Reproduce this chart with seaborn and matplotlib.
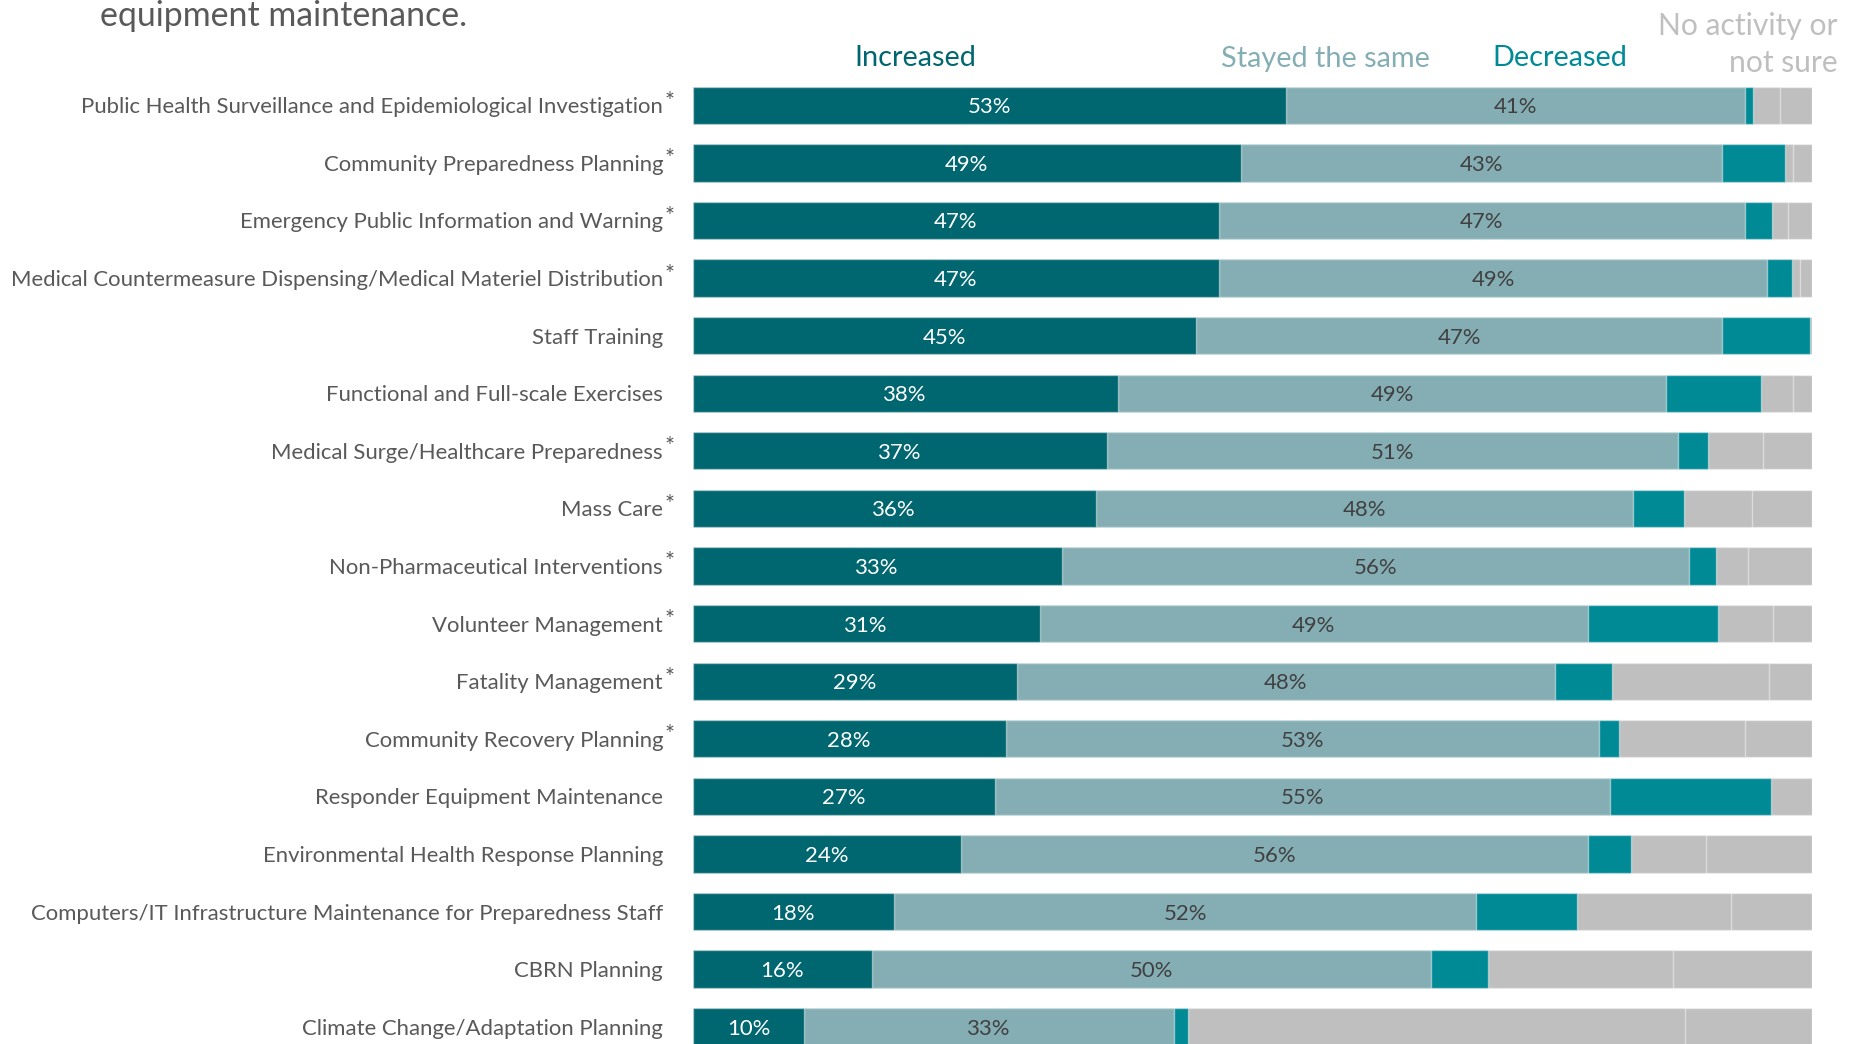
import numpy as np
import pandas as pd
import matplotlib
matplotlib.use("Agg")
import matplotlib.pyplot as plt
import matplotlib.transforms as mtransforms
import seaborn as sns

# ---- data -----------------------------------------------------------------
capabilities = [
    "Public Health Surveillance and Epidemiological Investigation",
    "Community Preparedness Planning",
    "Emergency Public Information and Warning",
    "Medical Countermeasure Dispensing/Medical Materiel Distribution",
    "Staff Training",
    "Functional and Full-scale Exercises",
    "Medical Surge/Healthcare Preparedness",
    "Mass Care",
    "Non-Pharmaceutical Interventions",
    "Volunteer Management",
    "Fatality Management",
    "Community Recovery Planning",
    "Responder Equipment Maintenance",
    "Environmental Health Response Planning",
    "Computers/IT Infrastructure Maintenance for Preparedness Staff",
    "CBRN Planning",
    "Climate Change/Adaptation Planning",
]
starred = [True, True, True, True, False, False, True, True, True, True,
           True, True, False, False, False, False, False]

increased = [53, 49, 47, 47, 45, 38, 37, 36, 33, 31, 29, 28, 27, 24, 18, 16, 10]
stayed_same = [41, 43, 47, 49, 47, 49, 51, 48, 56, 49, 48, 53, 55, 56, 52, 50, 33]
decreased = [0.7, 5.6, 2.4, 2.2, 7.8, 8.4, 2.7, 4.6, 2.4, 11.6, 5.1, 1.8, 14.3,
             3.8, 9.0, 5.1, 1.3]
no_activity = [2.4, 0.7, 1.5, 0.7, 0.2, 2.9, 4.9, 6.0, 2.9, 4.9, 14.1, 11.2,
               3.7, 6.7, 13.8, 16.5, 44.4]
not_sure = [2.9, 1.7, 2.1, 1.1, 0.0, 1.7, 4.4, 5.4, 5.7, 3.5, 3.8, 6.0, 0.0,
            9.5, 7.2, 12.4, 11.3]

header_increased = "Increased"
header_same = "Stayed the same"
header_decreased = "Decreased"
header_none = ["No activity or", "not sure"]
title_tail = "equipment maintenance."

# ---- styling ----------------------------------------------------------------
C_INC = "#006670"
C_SAME = "#85AEB4"
C_DEC = "#008A96"
C_GRAY = "#BFBFBF"
C_TEXT = "#595959"
C_LABEL_DARK = "#404040"
EDGE = (1, 1, 1, 0.45)

sns.set_style("white")
plt.rcParams["font.family"] = ["Lato", "DejaVu Sans"]

W, H, DPI = 1853, 1044, 100
fig = plt.figure(figsize=(W / DPI, H / DPI), dpi=DPI)

x0_px, x1_px = 692.5, 1812.0
ax = fig.add_axes([x0_px / W, 0.0, (x1_px - x0_px) / W, 1.0])

df = pd.DataFrame({
    "capability": capabilities,
    "increased": increased,
    "stayed": stayed_same,
    "decreased": decreased,
    "none": no_activity,
    "unsure": not_sure,
})
df["c_inc"] = df["increased"]
df["c_same"] = df["c_inc"] + df["stayed"]
df["c_dec"] = df["c_same"] + df["decreased"]
df["c_none"] = df["c_dec"] + df["none"]
df["c_all"] = df["c_none"] + df["unsure"]

BAR_H = 0.648
# stacked bars drawn back-to-front as cumulative totals
for col, color in [("c_all", C_GRAY), ("c_none", C_GRAY), ("c_dec", C_DEC),
                   ("c_same", C_SAME), ("c_inc", C_INC)]:
    sns.barplot(data=df, x=col, y="capability", orient="h", color=color,
                width=BAR_H, edgecolor=EDGE, linewidth=1.0, saturation=1,
                errorbar=None, ax=ax)

n = len(capabilities)
ax.set_xlim(0, 100)
ax.set_ylim(16.30, -1.828)
ax.set_xlabel("")
ax.set_ylabel("")
ax.set_xticks([])
sns.despine(ax=ax, left=True, bottom=True)
ax.tick_params(axis="y", length=0, pad=21.2, colors=C_TEXT)

# segment value labels
pct_texts = []
for i in range(n):
    inc = df["increased"][i]
    same = df["stayed"][i]
    pct_texts.append(ax.text(inc / 2, i, f"{inc:.0f}%", ha="center",
                             va="center_baseline", color="white"))
    pct_texts.append(ax.text(inc + same / 2, i, f"{same:.0f}%", ha="center",
                             va="center_baseline", color=C_LABEL_DARK))

# asterisks after starred capability names
star_tr = mtransforms.blended_transform_factory(fig.transFigure, ax.transData)
star_tr = star_tr + mtransforms.ScaledTranslation(0, 4 / DPI, fig.dpi_scale_trans)
for i, s in enumerate(starred):
    if s:
        fig.text(669.5 / W, i, "*", transform=star_tr, ha="center",
                 va="center", fontsize=17, color=C_TEXT)

# column headers
def fy(px):
    return 1 - px / H

hdr = [
    fig.text(915 / W, fy(58.5), header_increased, ha="center", va="center",
             color=C_INC),
    fig.text(1325.5 / W, fy(58.5), header_same, ha="center", va="center",
             color=C_SAME),
    fig.text(1560 / W, fy(57.5), header_decreased, ha="center", va="center",
             color=C_DEC),
]
hdr_none = [
    fig.text(1838 / W, fy(25.5), header_none[0], ha="right", va="center",
             color=C_GRAY),
    fig.text(1838 / W, fy(63), header_none[1], ha="right", va="center",
             color=C_GRAY),
]
title = fig.text(100 / W, fy(26.5), title_tail, ha="left", va="baseline",
                 color=C_TEXT, fontsize=30)

# size text so it occupies the intended widths
fig.canvas.draw()
renderer = fig.canvas.get_renderer()


def fitted_size(t, target):
    w = t.get_window_extent(renderer).width
    return t.get_fontsize() * target / w


labels = ax.get_yticklabels()
lab_size = fitted_size(labels[3], 653.5)
for t in labels:
    t.set_fontsize(lab_size)
    t.set_color(C_TEXT)
for t in pct_texts:
    t.set_fontsize(lab_size)

hdr_size = fitted_size(hdr[1], 209)
for t in hdr:
    t.set_fontsize(hdr_size)
none_size = fitted_size(hdr_none[0], 180)
for t in hdr_none:
    t.set_fontsize(none_size)
title.set_fontsize(fitted_size(title, 366))

fig.savefig("out.png", dpi=DPI, facecolor="white")
